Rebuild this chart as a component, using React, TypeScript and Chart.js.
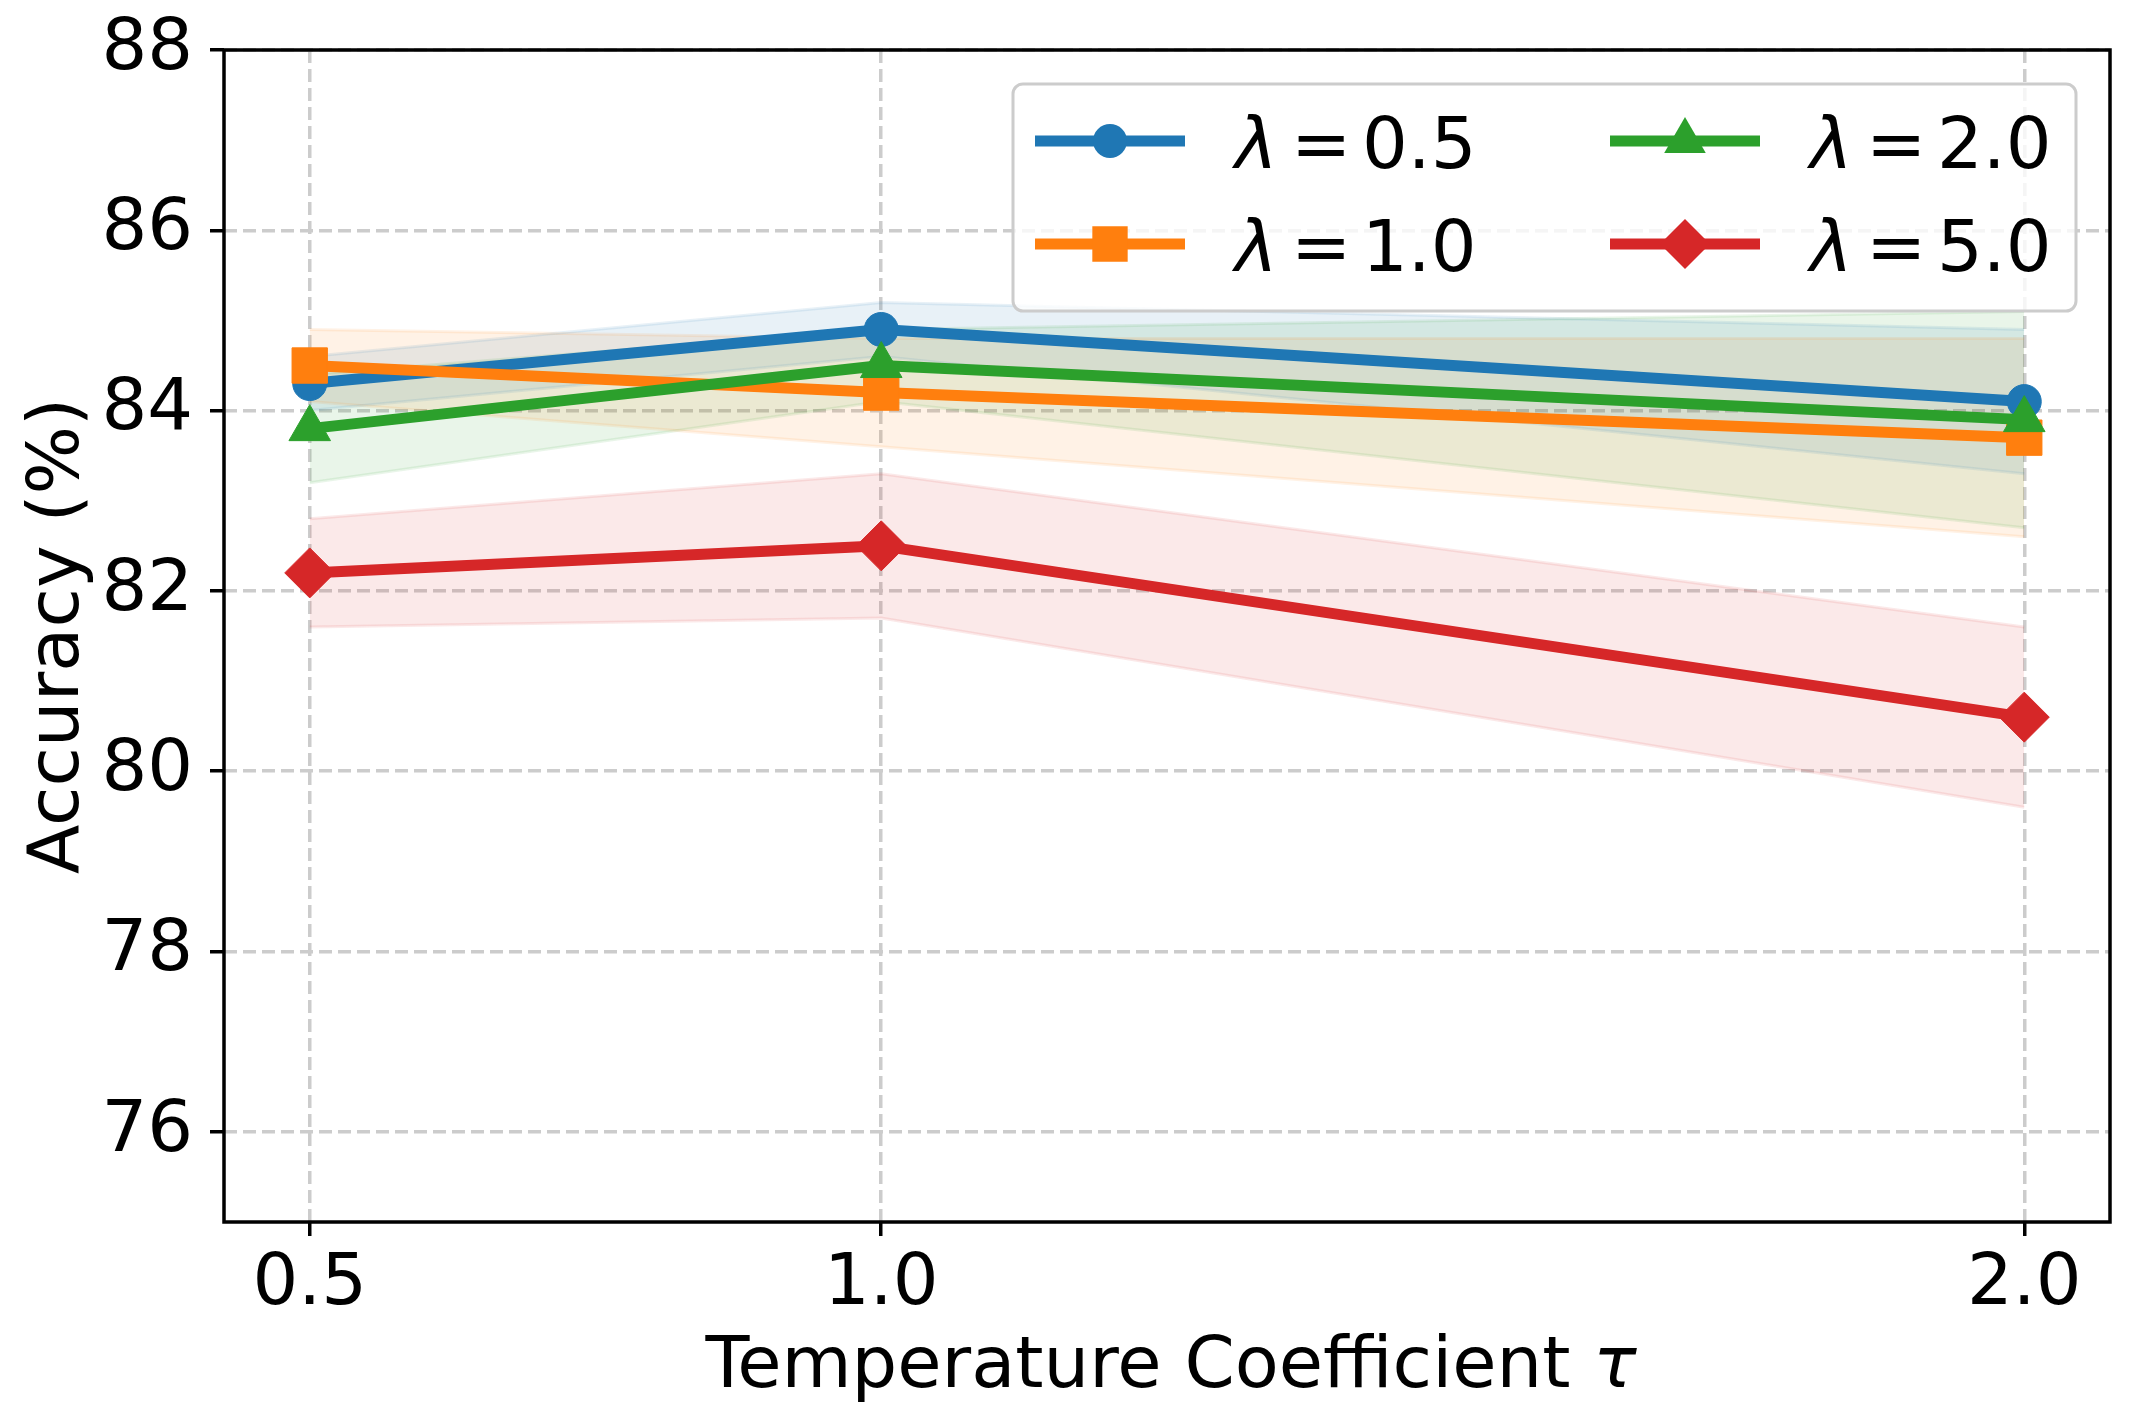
import * as React from 'react';
import { useEffect, useRef } from 'react';
import { Chart, registerables } from 'chart.js';

Chart.register(...registerables);

const FONT = '"DejaVu Sans", sans-serif';

// x categories (temperature coefficient) and y ticks
const tauValues = [0.5, 1.0, 2.0];
const yTickValues = [76, 78, 80, 82, 84, 86, 88];
const lambdaValues = ['0.5', '1.0', '2.0', '5.0'];

// mean accuracy and band edges
const accLambda05 = [84.3, 84.9, 84.1];
const upperLambda05 = [84.6, 85.2, 84.9];
const lowerLambda05 = [84.0, 84.6, 83.3];

const accLambda10 = [84.5, 84.2, 83.7];
const upperLambda10 = [84.9, 84.8, 84.8];
const lowerLambda10 = [84.1, 83.6, 82.6];

const accLambda20 = [83.8, 84.5, 83.9];
const upperLambda20 = [84.4, 84.9, 85.1];
const lowerLambda20 = [83.2, 84.1, 82.7];

const accLambda50 = [82.2, 82.5, 80.6];
const upperLambda50 = [82.8, 83.3, 81.6];
const lowerLambda50 = [81.6, 81.7, 79.6];

const series = [
  { acc: accLambda05, upper: upperLambda05, lower: lowerLambda05 },
  { acc: accLambda10, upper: upperLambda10, lower: lowerLambda10 },
  { acc: accLambda20, upper: upperLambda20, lower: lowerLambda20 },
  { acc: accLambda50, upper: upperLambda50, lower: lowerLambda50 },
];

const lineColors = ['#1f77b4', '#ff7f0e', '#2ca02c', '#d62728'];
const bandColors = [
  'rgba(31,119,180,0.1)',
  'rgba(255,127,14,0.1)',
  'rgba(44,160,44,0.1)',
  'rgba(214,39,40,0.1)',
];
const markerStyles = ['circle', 'rect', 'triangle', 'rectRot'];
const markerRadius = [17, 25, 24, 25];

const toPoints = (ys: number[]) => tauValues.map((x, i) => ({ x, y: ys[i] }));

function drawMarker(ctx: CanvasRenderingContext2D, style: string, x: number, y: number, r: number, color: string) {
  ctx.fillStyle = color;
  ctx.beginPath();
  if (style === 'circle') {
    ctx.arc(x, y, r, 0, Math.PI * 2);
  } else if (style === 'rect') {
    const s = r * Math.SQRT1_2;
    ctx.rect(x - s, y - s, 2 * s, 2 * s);
  } else if (style === 'triangle') {
    ctx.moveTo(x, y - r);
    ctx.lineTo(x + r * 0.866, y + r * 0.5);
    ctx.lineTo(x - r * 0.866, y + r * 0.5);
  } else {
    ctx.moveTo(x, y - r);
    ctx.lineTo(x + r, y);
    ctx.lineTo(x, y + r);
    ctx.lineTo(x - r, y);
  }
  ctx.closePath();
  ctx.fill();
}

// frame, x title with italic tau, and the legend inside the plot
const decorations = {
  id: 'decorations',
  afterDatasetsDraw(chart: any) {
    const { ctx, chartArea } = chart;
    ctx.save();
    ctx.setLineDash([]);
    ctx.strokeStyle = '#000';
    ctx.lineWidth = 3.5;
    ctx.strokeRect(chartArea.left, chartArea.top, chartArea.right - chartArea.left, chartArea.bottom - chartArea.top);
    ctx.restore();
  },
  afterDraw(chart: any) {
    const { ctx, chartArea } = chart;
    ctx.save();

    // x axis title
    const main = 'Temperature Coefficient ';
    const tau = 'τ';
    ctx.fillStyle = '#000';
    ctx.textBaseline = 'alphabetic';
    ctx.textAlign = 'left';
    ctx.font = `72px ${FONT}`;
    const wMain = ctx.measureText(main).width;
    ctx.font = `italic 72px ${FONT}`;
    const wTau = ctx.measureText(tau).width;
    const cx = (chartArea.left + chartArea.right) / 2 + 4;
    const x0 = cx - (wMain + wTau) / 2;
    ctx.font = `72px ${FONT}`;
    ctx.fillText(main, x0, 1387);
    ctx.font = `italic 72px ${FONT}`;
    ctx.fillText(tau, x0 + wMain, 1387);

    // legend box
    const bx = chartArea.right - 1097;
    const by = chartArea.top + 34;
    const bw = 1063;
    const bh = 227;
    const rad = 10;
    ctx.beginPath();
    ctx.moveTo(bx + rad, by);
    ctx.arcTo(bx + bw, by, bx + bw, by + bh, rad);
    ctx.arcTo(bx + bw, by + bh, bx, by + bh, rad);
    ctx.arcTo(bx, by + bh, bx, by, rad);
    ctx.arcTo(bx, by, bx + bw, by, rad);
    ctx.closePath();
    ctx.fillStyle = 'rgba(255,255,255,0.8)';
    ctx.fill();
    ctx.strokeStyle = '#cccccc';
    ctx.lineWidth = 3;
    ctx.stroke();

    const lines = chart.data.datasets.filter((d: any) => d.isMain);
    lines.forEach((d: any, i: number) => {
      const col = Math.floor(i / 2);
      const row = i % 2;
      const lx = bx + 22 + col * 575;
      const ly = by + 57 + row * 103;
      ctx.strokeStyle = d.borderColor;
      ctx.lineWidth = 11;
      ctx.lineCap = 'butt';
      ctx.beginPath();
      ctx.moveTo(lx, ly);
      ctx.lineTo(lx + 150, ly);
      ctx.stroke();
      drawMarker(ctx, d.pointStyle, lx + 75, ly, d.pointRadius, d.borderColor);

      const tx = lx + 192;
      const base = ly + 27;
      ctx.fillStyle = '#000';
      ctx.font = `italic 72px ${FONT}`;
      ctx.fillText('λ', tx + 8, base);
      ctx.font = `72px ${FONT}`;
      ctx.fillText('=', tx + 64, base);
      ctx.fillText(d.valueText, tx + 135, base);
    });

    ctx.restore();
  },
};

export default function App() {
  const canvasRef = useRef<HTMLCanvasElement | null>(null);

  useEffect(() => {
    const canvas = canvasRef.current;
    if (!canvas) return;

    const bandSets: any[] = [];
    series.forEach((s, i) => {
      bandSets.push({
        label: 'lower' + i,
        data: toPoints(s.lower),
        borderColor: bandColors[i],
        borderWidth: 3,
        pointRadius: 0,
        fill: false,
        order: 10,
      });
      bandSets.push({
        label: 'upper' + i,
        data: toPoints(s.upper),
        borderColor: bandColors[i],
        backgroundColor: bandColors[i],
        borderWidth: 3,
        pointRadius: 0,
        fill: '-1',
        order: 10,
      });
    });

    const lineSets = series.map((s, i) => ({
      label: 'λ = ' + lambdaValues[i],
      valueText: lambdaValues[i],
      isMain: true,
      data: toPoints(s.acc),
      borderColor: lineColors[i],
      backgroundColor: lineColors[i],
      borderWidth: 11,
      borderJoinStyle: 'round',
      pointStyle: markerStyles[i],
      pointRadius: markerRadius[i],
      pointBorderWidth: 1,
      pointBorderColor: lineColors[i],
      pointBackgroundColor: lineColors[i],
      fill: false,
      order: 4 - i,
    }));

    const chart = new Chart(canvas, {
      type: 'line',
      data: { datasets: [...bandSets, ...lineSets] as any },
      plugins: [decorations],
      options: {
        animation: false,
        responsive: true,
        maintainAspectRatio: false,
        events: [],
        layout: { padding: { top: 50, right: 25, left: 0, bottom: 0 } },
        plugins: {
          legend: { display: false },
          tooltip: { enabled: false },
          filler: { propagate: false, drawTime: 'beforeDatasetsDraw' },
        },
        scales: {
          x: {
            type: 'linear',
            min: 0.425,
            max: 2.075,
            afterBuildTicks: (scale: any) => {
              scale.ticks = tauValues.map((v) => ({ value: v }));
            },
            afterFit: (scale: any) => {
              scale.height = 200;
              scale.paddingLeft = 0;
              scale.paddingRight = 0;
            },
            ticks: {
              autoSkip: false,
              maxRotation: 0,
              color: '#000',
              padding: 6,
              font: { family: FONT, size: 72 },
              callback: (v: any) => Number(v).toFixed(1),
            },
            grid: {
              color: '#cccccc',
              lineWidth: 3.5,
              tickColor: '#000',
              tickWidth: 3.5,
              tickLength: 14,
            },
            border: { display: false, dash: [13, 6] },
          },
          y: {
            type: 'linear',
            min: 75,
            max: 88,
            afterBuildTicks: (scale: any) => {
              scale.ticks = yTickValues.map((v) => ({ value: v }));
            },
            afterFit: (scale: any) => {
              scale.width = 224;
              scale.paddingTop = 0;
              scale.paddingBottom = 0;
            },
            ticks: {
              color: '#000',
              padding: 17,
              font: { family: FONT, size: 72 },
              callback: (v: any) => String(v),
            },
            grid: {
              color: '#cccccc',
              lineWidth: 3.5,
              tickColor: '#000',
              tickWidth: 3.5,
              tickLength: 14,
            },
            border: { display: false, dash: [13, 6] },
            title: {
              display: true,
              text: 'Accuracy (%)',
              color: '#000',
              font: { family: FONT, size: 72 },
              padding: { top: 16, bottom: 0 },
            },
          },
        },
      } as any,
    });

    return () => chart.destroy();
  }, []);

  return (
    <div style={{ position: 'absolute', left: 0, top: 0, width: 2136, height: 1422, background: '#fff' }}>
      <canvas ref={canvasRef} />
    </div>
  );
}
